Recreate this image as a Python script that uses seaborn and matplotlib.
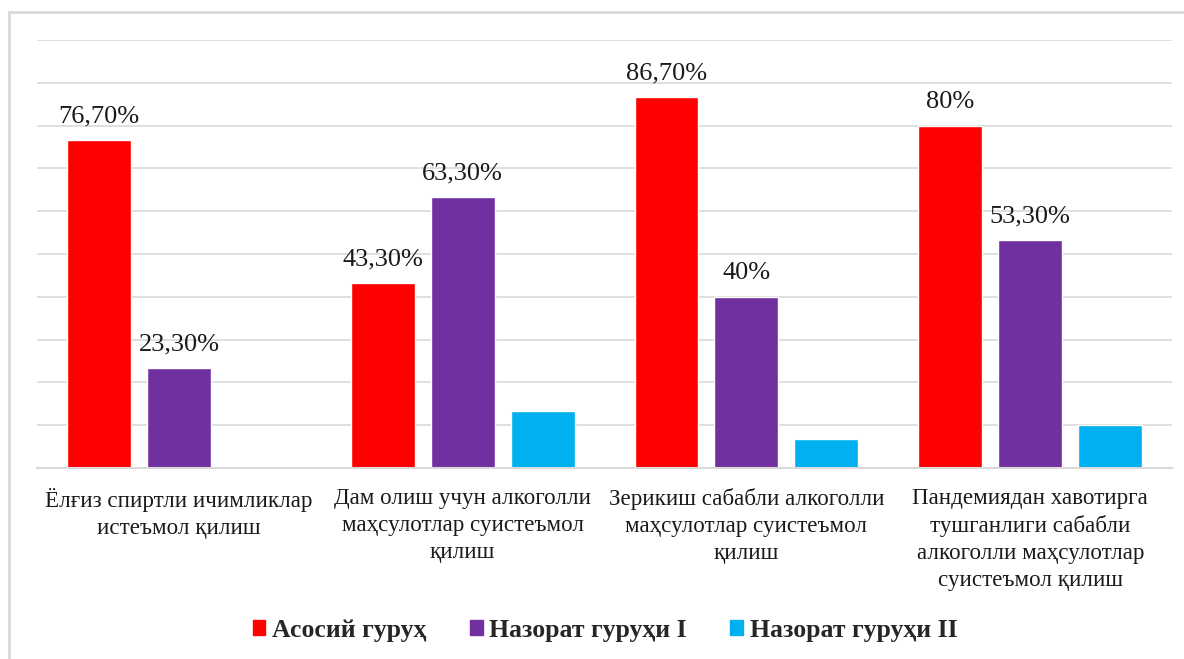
import seaborn as sns
import pandas as pd
import matplotlib.pyplot as plt
from matplotlib.patches import Rectangle

# Data
categories = [
    "Ёлғиз спиртли ичимликлар\nистеъмол қилиш",
    "Дам олиш учун алкоголли\nмаҳсулотлар суистеъмол\nқилиш",
    "Зерикиш сабабли алкоголли\nмаҳсулотлар суистеъмол\nқилиш",
    "Пандемиядан хавотирга\nтушганлиги сабабли\nалкоголли маҳсулотлар\nсуистеъмол қилиш",
]
groups = ["Асосий гуруҳ", "Назорат гуруҳи I", "Назорат гуруҳи II"]
main_group = [76.7, 43.3, 86.7, 80.0]
control_1 = [23.3, 63.3, 40.0, 53.3]
control_2 = [0.0, 13.3, 6.7, 10.0]
main_labels = ["76,70%", "43,30%", "86,70%", "80%"]
control_1_labels = ["23,30%", "63,30%", "40%", "53,30%"]
colors = ["#ff0000", "#7030a0", "#00b0f0"]

df = pd.DataFrame({
    "Category": categories * 3,
    "Group": [g for g in groups for _ in categories],
    "Value": main_group + control_1 + control_2,
})

sns.set_style("white")
plt.rcParams['font.family'] = ['Liberation Serif', 'DejaVu Serif']

fig = plt.figure(figsize=(11.84, 6.59), dpi=100)
ax = fig.add_axes([0.03125, 0.2898, 0.9587, 0.6493])

sns.barplot(data=df, x="Category", y="Value", hue="Group", hue_order=groups,
            palette=colors, width=0.845, gap=0.2, saturation=1, ax=ax,
            legend=False, errorbar=None)

ax.set_ylim(0, 100)
ax.set_yticks(range(0, 101, 10))
ax.yaxis.grid(True, color="#d9d9d9", linewidth=1.2)
ax.set_axisbelow(True)
ax.tick_params(axis="y", left=False, labelleft=False)
ax.tick_params(axis="x", bottom=False, pad=11)
ax.set_xticks(range(len(categories)))
ax.set_xticklabels(categories, fontsize=16.6, color="#1a1a1a", linespacing=1.36)
ax.set_xlabel("")
ax.set_ylabel("")
for side in ["top", "right", "left"]:
    ax.spines[side].set_visible(False)
ax.spines["bottom"].set_color("#d9d9d9")
ax.spines["bottom"].set_linewidth(1.5)

# value labels (only first two groups)
ax.bar_label(ax.containers[0], labels=main_labels, padding=9, fontsize=19, color="#1a1a1a")
ax.bar_label(ax.containers[1], labels=control_1_labels, padding=9, fontsize=19, color="#1a1a1a")

# legend
handles = [Rectangle((0, 0), 1, 1, color=c) for c in colors]
fig.legend(handles, groups, loc="center", bbox_to_anchor=(0.511, 0.044), ncol=3,
           frameon=False, prop={"size": 18.5, "weight": "bold"},
           handlelength=0.5, handleheight=0.5, handletextpad=0.27, columnspacing=1.67)

# outer frame
fig.patches.append(Rectangle((9 / 1184, -0.05), 1.1, 1 - 12 / 659 + 0.05,
                             transform=fig.transFigure, fill=False,
                             edgecolor="#d9d9d9", linewidth=2))

plt.savefig("out.png", dpi=100)
